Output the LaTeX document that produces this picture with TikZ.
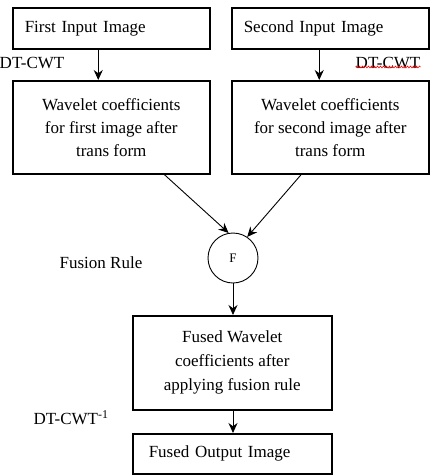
\documentclass[tikz,border=0pt]{standalone}
\usepackage{fontspec}
\setmainfont{Liberation Serif}
\usetikzlibrary{arrows.meta,calc,positioning,decorations.pathmorphing}
\tikzset{pin/.style={-{Stealth[length=10pt,width=9pt]}, line width=0.9pt},
  blk/.style={draw, line width=1.5pt, font=\fontsize{17}{23}\selectfont, align=center},
  lbl/.style={font=\fontsize{17}{20}\selectfont, inner sep=0pt}}

\begin{document}
\begin{tikzpicture}[x=1pt, y=-1pt]
  \useasboundingbox (0,0) rectangle (435,475);
  % input images
  \node[blk, anchor=north west, text width=173pt, inner xsep=12pt, minimum height=41pt, align=left] (first) at (12,7) {First Input Image};
  \node[blk, anchor=north west, text width=173pt, inner xsep=12pt, minimum height=41pt, align=left] (second) at (231,7) {Second Input Image};
  \node[lbl] (dtl) at (32,63) {DT-CWT};
  \node[lbl] (dtr) at (388,63) {DT-CWT};
  \draw[red, line width=0.6pt, decorate, decoration={snake, amplitude=0.9pt, segment length=3pt}] ($(dtr.south west)+(0,2pt)$) -- ($(dtr.south east)+(0,2pt)$);
  % coefficients
  \node[blk, anchor=north west, minimum width=197pt, minimum height=93pt] (wavea) at (12,80) {Wavelet coefficients\\for first image after\\trans form};
  \node[blk, anchor=north west, minimum width=197pt, minimum height=93pt] (waveb) at (231,80) {Wavelet coefficients\\for second image after\\trans form};
  \draw[pin] ($(first.south)+(-13pt,0)$) -- ($(wavea.north)+(-13pt,0)$);
  \draw[pin] ($(second.south)+(-11pt,0)$) -- ($(waveb.north)+(-11pt,0)$);
  % fusion
  \node[draw, circle, line width=0.9pt, minimum size=50pt, inner sep=0pt, font=\fontsize{13}{15}\selectfont] (fr) at (233,258) {F};
  \node[lbl] (rule) at (101,263) {Fusion Rule};
  \draw[pin] ($(wavea.south)+(53pt,0)$) -- (fr.100);
  \draw[pin] ($(waveb.south)+(-29pt,0)$) -- (fr.56);
  % fused
  \node[blk, anchor=north west, minimum width=199pt, minimum height=94pt, font=\fontsize{17}{24}\selectfont] (fused) at (132,315) {Fused Wavelet\\coefficients after\\applying fusion rule};
  \draw[pin] (fr.south) -- (fused.north -| fr.south);
  \node[lbl] (dti) at (71,418) {DT-CWT\textsuperscript{-1}};
  \node[blk, anchor=north west, text width=183pt, inner xsep=8pt, minimum height=40pt, align=left] (out) at (132,433) {\hspace*{8pt}Fused Output Image};
  \draw[pin] (fused.south -| fr.south) -- (out.north -| fr.south);
\end{tikzpicture}
\end{document}
